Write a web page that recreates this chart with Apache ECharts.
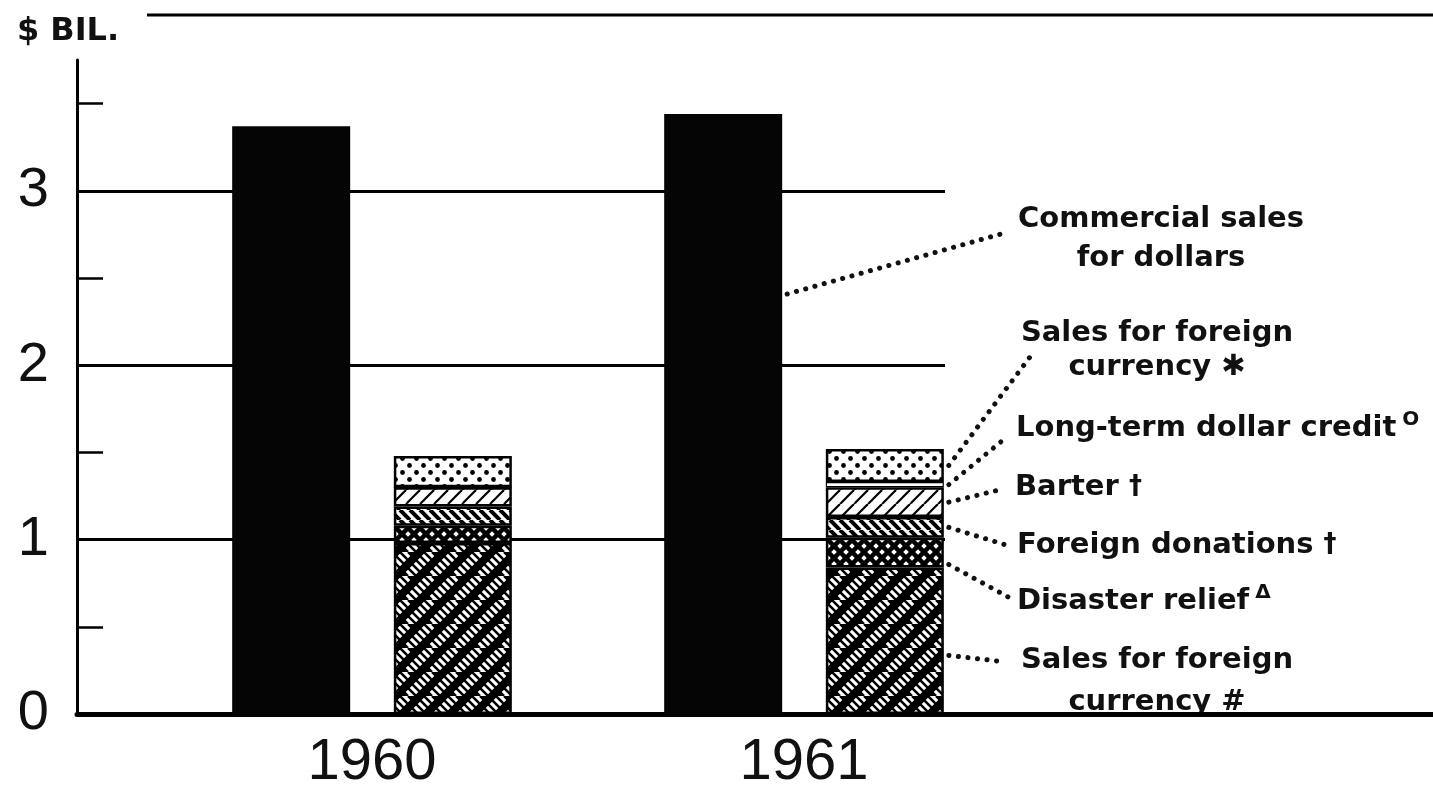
<!DOCTYPE html>
<html>
<head>
<meta charset="utf-8">
<script src="https://cdn.jsdelivr.net/npm/echarts@6/dist/echarts.min.js"></script>
<style>
  html, body { margin: 0; background: #fff; }
  #main { width: 1433px; height: 802px; }
</style>
</head>
<body>
<div id="main"></div>
<script>
// values, $ billions
var years = ['1960', '1961'];
var commercial = [3.37, 3.44];
var currencyHash = [0.98, 0.84];
var disaster = [0.10, 0.17];
var donations = [0.11, 0.12];
var barter = [0.11, 0.17];
var longTerm = [0.0, 0.03];
var currencyStar = [0.18, 0.19];
var yLabels = [0, 1, 2, 3];
var yMinorTicks = [0.5, 1.5, 2.5, 3.5];
var gridValues = [1, 2, 3];

var ink = '#111';
var noteFamily = '"DejaVu Sans", sans-serif';
var numFamily = '"Liberation Sans", Arial, sans-serif';

// ---- fill patterns ----
function tile(w, h, draw) {
  var c = document.createElement('canvas');
  c.width = w; c.height = h;
  var g = c.getContext('2d');
  draw(g, w, h);
  return { image: c, repeat: 'repeat' };
}
function slashes(g, s, dir, step, width, color) {
  g.strokeStyle = color;
  g.lineWidth = width;
  for (var k = -2 * s; k <= 3 * s; k += step) {
    g.beginPath();
    if (dir > 0) { g.moveTo(k, 0); g.lineTo(k - s, s); }   // '/'
    else { g.moveTo(k, 0); g.lineTo(k + s, s); }           // '\'
    g.stroke();
  }
}

var hashFill = tile(24, 24, function (g, w, h) {
  g.fillStyle = '#000'; g.fillRect(0, 0, w, h);
  slashes(g, 24, 1, 24, 9, '#fff');
  slashes(g, 24, -1, 8, 2.5, '#000');
});
var crossFill = tile(12, 12, function (g, w, h) {
  g.fillStyle = '#fff'; g.fillRect(0, 0, w, h);
  slashes(g, 12, 1, 12, 4.5, '#000');
  slashes(g, 12, -1, 12, 4.5, '#000');
});
var backFill = tile(10, 10, function (g, w, h) {
  g.fillStyle = '#fff'; g.fillRect(0, 0, w, h);
  slashes(g, 10, -1, 10, 4, '#000');
});
var lightFill = tile(14, 14, function (g, w, h) {
  g.fillStyle = '#fff'; g.fillRect(0, 0, w, h);
  slashes(g, 14, 1, 14, 2.2, '#000');
});
var dotFill = tile(14, 14, function (g, w, h) {
  g.fillStyle = '#fff'; g.fillRect(0, 0, w, h);
  g.fillStyle = '#000';
  [[3.5, 3.5], [10.5, 10.5]].forEach(function (p) {
    g.beginPath(); g.arc(p[0], p[1], 2.4, 0, Math.PI * 2); g.fill();
  });
});

var chartDom = document.getElementById('main');
var myChart = echarts.init(chartDom);
var option;

function stackPart(name, data, fill, border) {
  return {
    name: name,
    type: 'bar',
    stack: 'aid',
    xAxisIndex: 1,
    yAxisIndex: 1,
    barWidth: 118,
    barGap: '37%',
    itemStyle: { color: fill, borderColor: '#000', borderWidth: border || 2.5 },
    data: data
  };
}

option = {
  backgroundColor: '#fff',
  animation: false,
  grid: [
    // frame: y axis and baseline
    { left: 77, right: 0, top: 60, bottom: 88 },
    // bars
    { left: 156, right: 413, top: 60, bottom: 88 },
    // horizontal rules, stop at the last bar
    { left: 77, right: 488, top: 60, bottom: 88 }
  ],
  xAxis: [
    {
      gridIndex: 0, type: 'value', min: 0, max: 1,
      axisLine: { lineStyle: { color: '#000', width: 5 } },
      axisTick: { show: false }, axisLabel: { show: false }, splitLine: { show: false }
    },
    {
      gridIndex: 1, type: 'category', data: years,
      axisLine: { show: false }, axisTick: { show: false },
      axisLabel: { fontSize: 58, fontFamily: numFamily, color: ink, margin: 20 }
    },
    {
      gridIndex: 2, type: 'value', min: 0, max: 1, show: false
    }
  ],
  yAxis: [
    {
      gridIndex: 0, type: 'value', min: 0, max: 3.75, interval: 1,
      name: '$ BIL.', nameLocation: 'end', nameGap: 12,
      nameTextStyle: {
        fontSize: 32, fontWeight: 'bold', fontFamily: noteFamily, color: ink,
        align: 'center', padding: [0, 18, 0, 0]
      },
      axisLine: { show: true, lineStyle: { color: '#000', width: 3 } },
      axisTick: {
        show: true, inside: true, length: 26, customValues: yMinorTicks,
        lineStyle: { color: '#000', width: 2.5 }
      },
      axisLabel: { customValues: yLabels, fontSize: 56, fontFamily: numFamily, color: ink, margin: 28 },
      splitLine: { show: false }
    },
    {
      gridIndex: 1, type: 'value', min: 0, max: 3.75, show: false
    },
    {
      gridIndex: 2, type: 'value', min: 0, max: 3.75, interval: 1,
      axisLine: { show: false },
      axisTick: { show: false, customValues: gridValues },
      axisLabel: { show: false },
      splitLine: {
        show: true,
        lineStyle: { color: '#000', width: 3 }
      }
    }
  ],
  series: [
    {
      name: 'Commercial sales for dollars',
      type: 'bar',
      xAxisIndex: 1,
      yAxisIndex: 1,
      barWidth: 118,
      barGap: '37%',
      itemStyle: { color: '#050505' },
      data: commercial
    },
    stackPart('Sales for foreign currency #', currencyHash, hashFill),
    stackPart('Disaster relief', disaster, crossFill),
    stackPart('Foreign donations', donations, backFill),
    stackPart('Barter', barter, lightFill),
    stackPart('Long-term dollar credit', longTerm, '#fff', 1.2),
    stackPart('Sales for foreign currency *', currencyStar, dotFill)
  ]
};

option && myChart.setOption(option);

// ---- labels with dotted leaders, attached to the 1961 bars ----
var noteText = { fontSize: 29, fontWeight: 'bold', fontFamily: noteFamily, fill: ink };

// [series index, fraction up the segment, leader end x, leader end y]
var leaders = [
  [0, 0.7, 1008, 232],
  [6, 0.5, 1030, 357],
  [5, 0.5, 1008, 436],
  [4, 0.5, 1003, 489],
  [3, 0.5, 1006, 545],
  [2, 0.1, 1010, 598],
  [1, 0.4, 1006, 662]
];

function segmentPoint(seriesIndex, frac) {
  var lay = myChart.getModel().getSeriesByIndex(seriesIndex).getData().getItemLayout(1);
  return [lay.x + lay.width + 5, lay.y + lay.height * frac];
}

var graphics = [
  {
    type: 'line', silent: true,
    shape: { x1: 147, y1: 15, x2: 1433, y2: 15 },
    style: { stroke: '#000', lineWidth: 3 }
  }
];

leaders.forEach(function (l) {
  var p = segmentPoint(l[0], l[1]);
  graphics.push({
    type: 'line', silent: true,
    shape: { x1: p[0], y1: p[1], x2: l[2], y2: l[3] },
    style: { stroke: ink, lineWidth: 5, lineDash: [0.1, 9.5], lineCap: 'round' }
  });
});

function note(text, x, y, extra) {
  var style = Object.assign({ text: text, x: x, y: y }, noteText, extra);
  graphics.push({ type: 'text', silent: true, style: style });
}

var richParts = {
  t: { fontSize: 29, fontWeight: 'bold', fontFamily: noteFamily, color: ink, lineHeight: 36 },
  s: { fontSize: 20, fontWeight: 'bold', fontFamily: noteFamily, color: ink, verticalAlign: 'top', lineHeight: 20, padding: [0, 0, 0, 6] },
  d: { fontSize: 26, fontWeight: 'bold', fontFamily: noteFamily, color: ink, lineHeight: 36 }
};

note('Commercial sales\nfor dollars', 1161, 200, { align: 'center', verticalAlign: 'top', lineHeight: 39 });
note('Sales for foreign\ncurrency \u2731', 1157, 316, { align: 'center', verticalAlign: 'top', lineHeight: 34 });
note('{t|Long-term dollar credit}{s|O}', 1016, 428, { align: 'left', verticalAlign: 'middle', rich: richParts });
note('{t|Barter }{d|\u2020}', 1015, 487, { align: 'left', verticalAlign: 'middle', rich: richParts });
note('{t|Foreign donations }{d|\u2020}', 1017, 545, { align: 'left', verticalAlign: 'middle', rich: richParts });
note('{t|Disaster relief}{s|\u0394}', 1017, 601, { align: 'left', verticalAlign: 'middle', rich: richParts });
note('Sales for foreign\ncurrency #', 1157, 639, { align: 'center', verticalAlign: 'top', lineHeight: 42 });

myChart.setOption({ graphic: graphics });
</script>
</body>
</html>
